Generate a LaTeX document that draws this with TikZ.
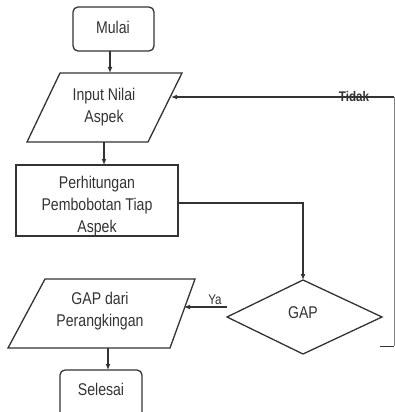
\documentclass[tikz,border=0pt]{standalone}
\usepackage{fontspec}
\setmainfont{Liberation Sans}
\usetikzlibrary{arrows.meta}
\newcommand{\ftxt}[1]{\scalebox{0.83}[1]{\begin{tabular}{@{}c@{}}#1\end{tabular}}}
\begin{document}
\begin{tikzpicture}[x=1pt,y=-1pt,
  shp/.style={draw=black!80,line width=1.3pt,line join=miter},
  con/.style={draw=black!80,line width=1.3pt},
  arr/.style={con,-{Latex[length=6pt,width=5pt]}},
  lbl/.style={inner sep=0pt,font=\fontsize{17}{22}\selectfont,text=black!80},
  every node/.style={inner sep=0pt}]
\useasboundingbox (0,0) rectangle (395,412);
\begin{scope}
\clip (0,0) rectangle (395,412);
% Mulai
\draw[shp,rounded corners=5pt] (73,7) rectangle (154,51);
\node[lbl] (mulai) at (113,29) {\ftxt{Mulai}};
% Input
\draw[shp] (60,73) -- (182,73) -- (148,142) -- (27,142) -- cycle;
\node[lbl] (input) at (104,107) {\ftxt{Input Nilai\\Aspek}};
% Perhitungan
\draw[shp] (16,165) rectangle (178,236);
\node[lbl] (hitung) at (97,206) {\ftxt{Perhitungan\\Pembobotan Tiap\\Aspek}};
% GAP diamond
\draw[shp] (303,280) -- (382,317) -- (303,354) -- (227,317) -- cycle;
\node[lbl] (gap) at (303,314) {\ftxt{GAP}};
% GAP dari
\draw[shp] (45,279) -- (195,279) -- (170,348) -- (8,348) -- cycle;
\node[lbl] (gapdari) at (100,311) {\ftxt{GAP dari\\Perangkingan}};
% Selesai
\draw[shp,rounded corners=5pt] (60,370) rectangle (142,420);
\node[lbl] (selesai) at (101,391) {\ftxt{Selesai}};
% coordinates
\coordinate (m1) at (110,51);
\coordinate (i1) at (110,73);
\coordinate (i2) at (104,142);
\coordinate (h1) at (104,165);
\coordinate (h2) at (178,203);
\coordinate (g1) at (303,280);
\coordinate (y1) at (227,307);
\coordinate (y2) at (184,307);
\coordinate (d1) at (108,348);
\coordinate (s1) at (108,370);
\coordinate (t0) at (380,346);
\coordinate (t1) at (394,346);
\coordinate (t2) at (394,97);
\coordinate (t3) at (171,97);
% connectors
\draw[arr] (m1) -- (i1);
\draw[arr] (i2) -- (h1);
\draw[arr] (h2) -| (g1);
\draw[arr] (y1) -- (y2);
\draw[arr] (d1) -- (s1);
\draw[con,line width=1pt] (t0) -- (t1);
\draw[con,line width=0.6pt,draw=black!50] (t1) -- (t2);
\draw[arr] (t2) -- (t3);
\node[lbl,font=\fontsize{14}{16}\selectfont\bfseries] (tidak) at (354,96) {\scalebox{0.83}[1]{Tidak}};
\node[lbl,font=\fontsize{14}{16}\selectfont] (ya) at (215,300) {\scalebox{0.83}[1]{Ya}};
\end{scope}
\end{tikzpicture}
\end{document}
